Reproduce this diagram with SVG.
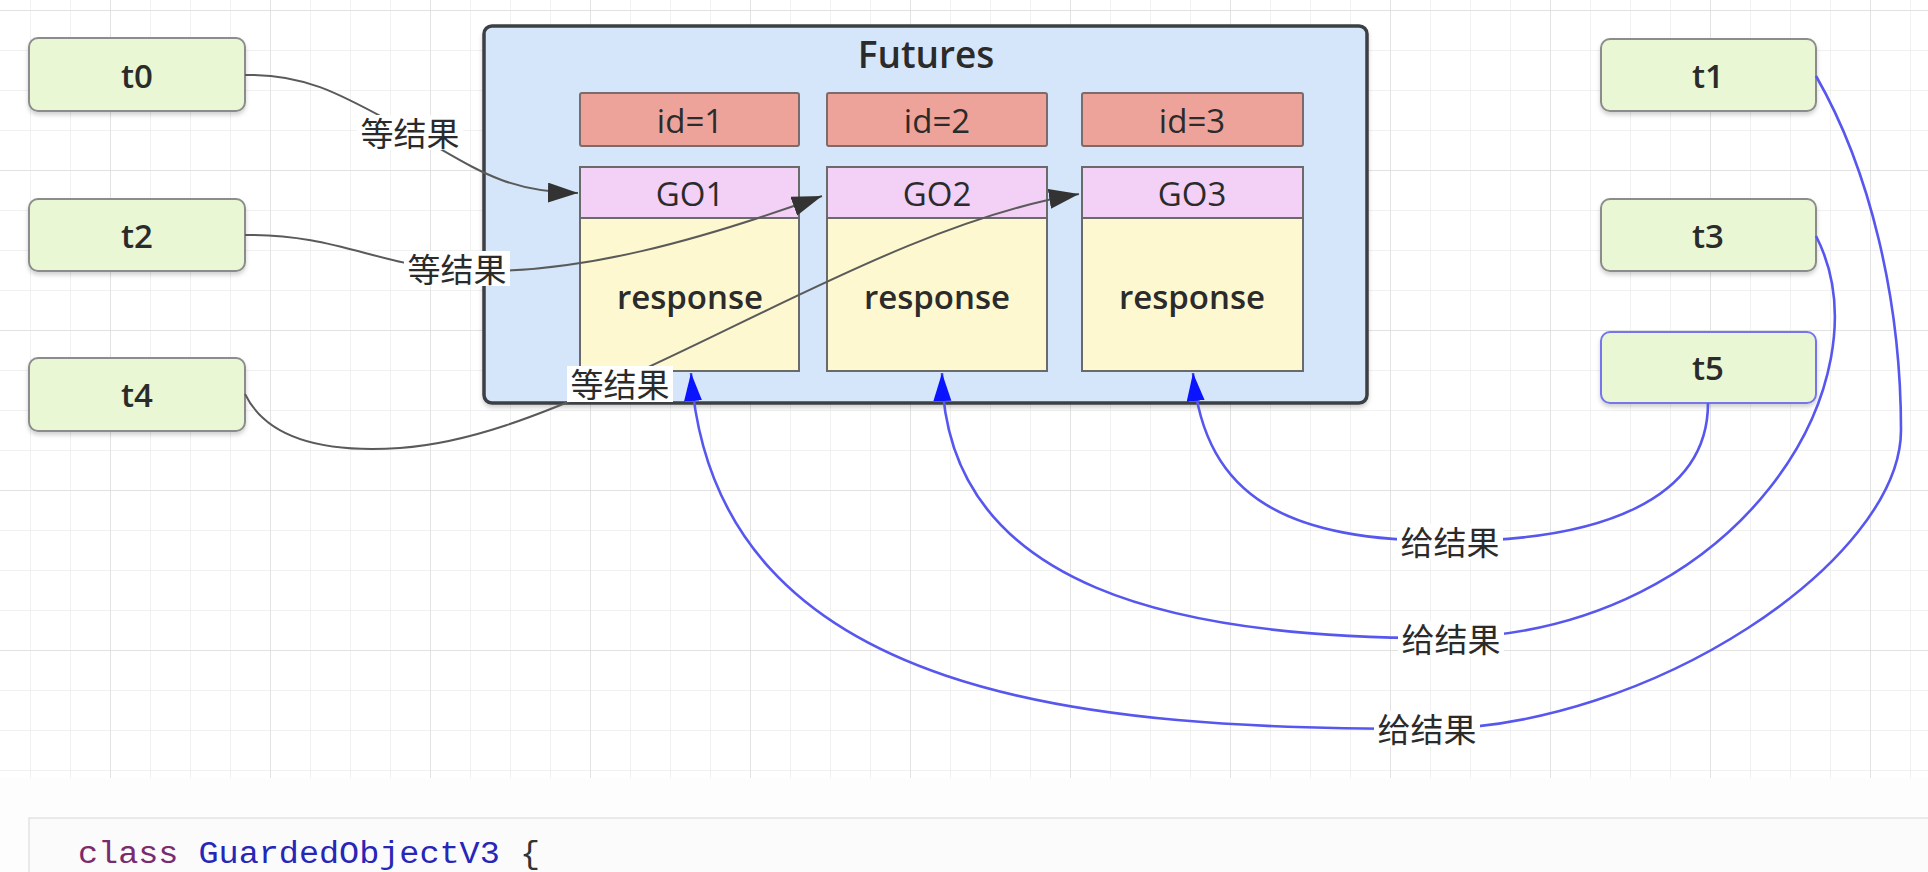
<svg xmlns="http://www.w3.org/2000/svg" width="1928" height="872" viewBox="0 0 1928 872">
  <style>
    .node rect { fill: #e9f7d4; stroke: #8c8c8c; stroke-width: 2; }
    .ntxt { font-family: "Open Sans", "Liberation Sans", sans-serif; font-weight: 600; font-size: 33px; fill: #2b2b2b; text-anchor: middle; dominant-baseline: central; }
    .btxt { font-family: "Open Sans", "Liberation Sans", sans-serif; font-weight: 500; font-size: 33px; fill: #2b2b2b; text-anchor: middle; dominant-baseline: central; }
    .idbox { fill: #eea39a; stroke: #7b6b6b; stroke-width: 2; }
    .gobox { fill: #f3d0f6; stroke: #6a6a6a; stroke-width: 2; }
    .rsbox { fill: #fdf8cf; stroke: #6a6a6a; stroke-width: 2; }
    .wait { fill: none; stroke: #5a5a5a; stroke-width: 2; marker-end: url(#arrBlack); }
    .give { fill: none; stroke: #5757ef; stroke-width: 2.6; marker-end: url(#arrBlue); }
    .lbl { font-family: "Noto Sans CJK SC", sans-serif; font-size: 33px; fill: #2b2b2b; text-anchor: middle; dominant-baseline: central; }
    .lblbg { fill: #ffffff; }
    .code { font-family: "Liberation Mono", monospace; font-size: 31px; }
  </style>
  <defs>
    <pattern id="gridMinor" patternUnits="userSpaceOnUse" x="30" y="10" width="40" height="40">
      <path d="M0,0 L40,0 M0,0 L0,40" stroke="#ededed" stroke-width="1.5" fill="none"/>
    </pattern>
    <pattern id="gridMajor" patternUnits="userSpaceOnUse" x="110" y="10" width="160" height="160">
      <path d="M0,0 L160,0 M0,0 L0,160" stroke="#e2e2e2" stroke-width="2" fill="none"/>
    </pattern>
    <marker id="arrBlack" markerUnits="userSpaceOnUse" markerWidth="32" markerHeight="24" refX="30" refY="10" orient="auto">
      <path d="M0,0 L30,10 L0,20 Z" fill="#333333"/>
    </marker>
    <marker id="arrBlue" markerUnits="userSpaceOnUse" markerWidth="30" markerHeight="22" refX="28" refY="9" orient="auto">
      <path d="M0,0 L28,9 L0,18 Z" fill="#0a14ff"/>
    </marker>
    <filter id="shadow" x="-10%" y="-10%" width="120%" height="130%">
      <feDropShadow dx="0" dy="3" stdDeviation="2" flood-color="#000000" flood-opacity="0.18"/>
    </filter>
  </defs>

  <!-- background -->
  <rect x="0" y="0" width="1928" height="872" fill="#fdfdfd"/>
  <rect x="0" y="0" width="1928" height="778" fill="#ffffff"/>
  <rect x="0" y="0" width="1928" height="778" fill="url(#gridMinor)"/>
  <rect x="0" y="0" width="1928" height="778" fill="url(#gridMajor)"/>

  <!-- Futures container -->
  <g id="futures">
    <rect x="484" y="26" width="883" height="377" rx="8" fill="#d5e6fb" stroke="#3c4043" stroke-width="3.5" filter="url(#shadow)"/>
    <text class="ntxt" x="926" y="53" style="font-size:37px">Futures</text>
  </g>

  <g id="id1"><rect class="idbox" x="580" y="93" width="219" height="53" rx="2"/><text class="btxt" x="690" y="120">id=1</text></g>
  <g id="id2"><rect class="idbox" x="827" y="93" width="220" height="53" rx="2"/><text class="btxt" x="937" y="120">id=2</text></g>
  <g id="id3"><rect class="idbox" x="1082" y="93" width="221" height="53" rx="2"/><text class="btxt" x="1192" y="120">id=3</text></g>

  <g id="go1">
    <rect class="rsbox" x="580" y="218" width="219" height="153"/>
    <rect class="gobox" x="580" y="167" width="219" height="51"/>
    <text class="btxt" x="690" y="193">GO1</text>
    <text class="ntxt" x="690" y="296">response</text>
  </g>
  <g id="go2">
    <rect class="rsbox" x="827" y="218" width="220" height="153"/>
    <rect class="gobox" x="827" y="167" width="220" height="51"/>
    <text class="btxt" x="937" y="193">GO2</text>
    <text class="ntxt" x="937" y="296">response</text>
  </g>
  <g id="go3">
    <rect class="rsbox" x="1082" y="218" width="221" height="153"/>
    <rect class="gobox" x="1082" y="167" width="221" height="51"/>
    <text class="btxt" x="1192" y="193">GO3</text>
    <text class="ntxt" x="1192" y="296">response</text>
  </g>

  <!-- thread nodes -->
  <g id="t0" class="node"><rect x="29" y="38" width="216" height="73" rx="9" filter="url(#shadow)"/><text class="ntxt" x="137" y="75">t0</text></g>
  <g id="t2" class="node"><rect x="29" y="199" width="216" height="72" rx="9" filter="url(#shadow)"/><text class="ntxt" x="137" y="235">t2</text></g>
  <g id="t4" class="node"><rect x="29" y="358" width="216" height="73" rx="9" filter="url(#shadow)"/><text class="ntxt" x="137" y="394">t4</text></g>
  <g id="t1" class="node"><rect x="1601" y="39" width="215" height="72" rx="9" filter="url(#shadow)"/><text class="ntxt" x="1708" y="75">t1</text></g>
  <g id="t3" class="node"><rect x="1601" y="199" width="215" height="72" rx="9" filter="url(#shadow)"/><text class="ntxt" x="1708" y="235">t3</text></g>
  <g id="t5" class="node"><rect x="1601" y="332" width="215" height="71" rx="9" style="stroke:#7474ee" filter="url(#shadow)"/><text class="ntxt" x="1708" y="367">t5</text></g>

  <!-- connectors -->
  <g id="connectors">
    <path class="wait" d="M245,75 C310,73 350,100 410,132 S500,192 578,193"/>
    <path class="wait" d="M245,235 C340,234 380,268 470,271 C580,274 700,240 822,196"/>
    <path class="wait" d="M245,394 C270,445 340,452 400,448 C470,443 540,415 620,380 C760,318 930,218 1079,194"/>

    <path class="give" d="M1708,403 C1708,500 1600,541 1450,541 C1290,541 1205,500 1193,373"/>
    <path class="give" d="M1816,236 C1890,380 1740,630 1451,638 C1180,640 945,590 942,373"/>
    <path class="give" d="M1816,76 C1870,170 1901,300 1901,430 C1901,560 1650,729 1427,729 C1100,729 715,705 691,373"/>

    <g id="labels">
      <rect class="lblbg" x="357" y="115" width="106" height="35"/><text class="lbl" x="410" y="132">等结果</text>
      <rect class="lblbg" x="404" y="251" width="106" height="35"/><text class="lbl" x="457" y="268">等结果</text>
      <rect class="lblbg" x="567" y="366" width="106" height="36"/><text class="lbl" x="620" y="383">等结果</text>
      <rect class="lblbg" x="1397" y="524" width="106" height="35"/><text class="lbl" x="1450" y="541">给结果</text>
      <rect class="lblbg" x="1398" y="621" width="106" height="35"/><text class="lbl" x="1451" y="638">给结果</text>
      <rect class="lblbg" x="1374" y="711" width="106" height="35"/><text class="lbl" x="1427" y="728">给结果</text>
    </g>
  </g>

  <!-- code block -->
  <rect x="29" y="818" width="1910" height="70" fill="#fbfbfb" stroke="#e3e3e3" stroke-width="1.5"/>
  <text class="code" x="78" y="863" textLength="462" lengthAdjust="spacingAndGlyphs"><tspan fill="#7a2a6e">class</tspan><tspan fill="#2626b8"> GuardedObjectV3</tspan><tspan fill="#333333"> {</tspan></text>
</svg>
